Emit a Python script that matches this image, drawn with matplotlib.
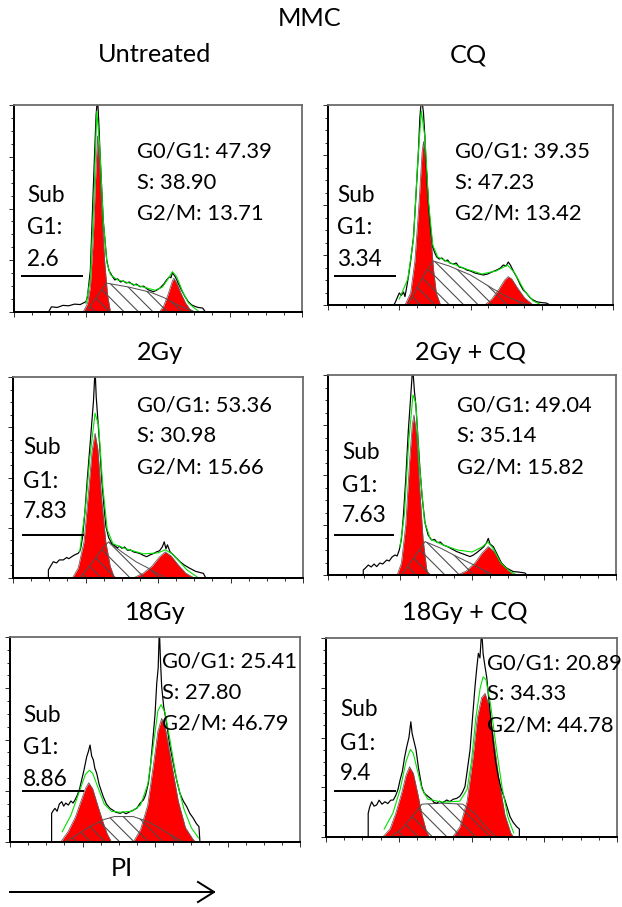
import matplotlib
matplotlib.use("Agg")
import matplotlib.pyplot as plt
from matplotlib.ticker import MultipleLocator
import numpy as np

plt.rcParams['font.family'] = ['Lato', 'DejaVu Sans']
plt.rcParams['hatch.linewidth'] = 0.6

W, H, DPI = 622, 907, 130

# --- data: (channel, count) ---
unt_hist = [(24,0),(26,2.5),(30,2.2),(34,3.2),(38,3.0),(42,3.8),(46,3.6),(48,4.3),(50,5),(51,7.4),(53,20),(55.5,68),(57,95),(58,104),(59,90),(59.7,77),(62,44),(64.4,25),(66,20),(67,18.8),(68.5,17),(70,15.5),(72,16),(74,14.5),(76,15),(78,14),(80,14.5),(83,13),(85,13.5),(87.5,12.2),(90,12.5),(93,10.8),(96.7,9.8),(99,10.5),(101.4,11.6),(104,13.5),(106,15.5),(108,17),(109,16.5),(110,19),(112,17),(114,14),(116,11),(118.8,7.4),(121,5),(123.4,3.4),(126,2.6),(128,2.2),(131,1.9),(133,0)]
unt_g1 = [(48,0),(51,4),(53,12),(55,35),(56.5,62),(58,85),(59.5,70),(61,48),(63,24),(65,8),(67,0)]
unt_s = [(50,0),(57,7),(64,14),(80,12),(95,9.5),(104,7),(112,4),(120,1.5),(126,0)]
unt_g2 = [(101,0),(104,3),(107,8.5),(110,15),(111,16.3),(113,14),(116,9),(119,4.5),(122,1.5),(125,0)]
unt_fit = [(50,4),(53,16),(55.5,55),(57.5,97),(59.5,80),(62,44),(64.5,24),(67,18),(72,15.5),(80,14),(90,12),(98,10.5),(103,12),(107,16),(110,19.5),(113,17),(117,10),(121,4.5),(125,2),(128,0.5)]

cq_hist = [(46,0),(47,1),(48.5,3.5),(50,6),(51.5,4.8),(53,6.5),(54,4.2),(55,8),(56.4,14),(58,22),(60,34),(61.5,52),(63.4,76),(64.5,94),(65.7,104),(67,96),(68,84),(69,68),(70.4,51),(72,38),(73.5,29),(75,26),(76.3,24),(78,23),(80,23.5),(82,22),(84,22.5),(85.6,21),(88,20.5),(90,21),(92,19),(95,18.5),(97.3,17.5),(100,17),(103,16),(106,15.5),(109,15),(112,15.5),(115,16.5),(118.4,17.5),(121,18.5),(123,20),(125,19.5),(126.5,21.5),(128,20),(130,17),(132.4,14),(135,10),(137,7.5),(139.4,5.8),(142,3.5),(144,2.5),(146.5,1.6),(150,1.2),(153,1),(156,0)]
cq_g1 = [(54,0),(58,6),(61,22),(64,52),(66,76),(67,81.7),(69,70),(71,45),(74,18),(76,6),(79,0)]
cq_s = [(56,0),(62,8),(68,16),(74,22),(85,19.5),(100,15),(116,8),(126,4),(135,1.5),(142,0)]
cq_g2 = [(110,0),(115,3),(120,8),(124,12.5),(126.5,14.2),(129,13),(133,8.5),(138,3.5),(144,0)]
cq_fit = [(50,3),(56,13),(60,33),(63,72),(65.5,97),(68,84),(70.5,52),(73.5,30),(77,24),(86,21),(97,18),(108,15.5),(118,17),(126,20),(131,16),(138,7),(144,2),(150,0)]

gy2_hist = [(24.4,0),(24.4,4),(26,6),(27.8,8.1),(30,7.5),(32,9),(34.7,9),(37,10.2),(38.5,9.6),(40.5,10.6),(42.5,11.5),(45,12.3),(46.5,14),(48,20.5),(49.5,32),(51.2,48.8),(53,65),(54.3,77),(55.5,88),(56.6,104),(57.4,90),(58.2,82),(59.8,66),(61.2,48.8),(62.7,36),(64.1,25.5),(66,20),(68,17.3),(70,16.2),(72,15),(73.5,15.8),(75,14.8),(77,15.4),(79,13.8),(81,14),(83,13),(85.5,12.6),(88,12),(90,11.2),(92.2,10.6),(94.5,11.5),(97,12.2),(99,13),(101,13.5),(103,15.5),(104.3,18),(105.5,14.5),(106.5,16.5),(108.3,13),(110.5,11.5),(112.5,10),(115.2,8.1),(118,6.5),(122,4.8),(126,3.3),(131.3,2.3),(133,0)]
gy2_g1 = [(41,0),(45,5),(49,18),(52,42),(54.5,63),(56.6,72),(58.5,64),(61,40),(64,18),(67,6),(70,0)]
gy2_s = [(46,0),(55,8),(62,15),(66,18),(75,13),(85,8),(93,5),(100,2),(106,0)]
gy2_g2 = [(83,0),(90,2.5),(96,6),(101,10.5),(105,13),(109,11),(114,6.5),(119,2.5),(125,0)]
gy2_fit = [(46,13),(50,35),(53,60),(56.6,82),(59,76),(62,45),(65,24),(69,17),(78,14.5),(90,12),(100,12.5),(105,14),(110,12),(115,8),(120,4),(125,1.5),(128,0)]

gy2cq_hist = [(24.5,0),(24.5,2.5),(26,3.5),(28,5),(30,4),(32,5.5),(33.8,4.2),(36,6),(38,5.5),(40.8,7.5),(42.5,7),(44.5,9),(46.5,10),(48,9.5),(49.5,12.5),(51,18),(52.3,29),(54,48),(55.8,72.5),(57.5,90),(58.8,104),(60,92),(61.1,84),(62.5,68),(63.9,52.5),(65.5,38),(67.4,26),(69.5,20),(72,17.5),(74,17.8),(76,16.2),(78,16.5),(80,15),(83,14.2),(86,13),(89.4,11.7),(92,11),(95,10.2),(98.6,9.2),(101,10),(103.5,11.3),(105.5,12.5),(108,14),(110,16),(111.3,18.3),(112.5,15.5),(114.8,14.2),(117,11),(120.6,5.8),(124,3.5),(128.7,1.7),(132,1.5),(136.8,1),(138,0)]
gy2cq_g1 = [(48,0),(51,6),(54,25),(56.5,55),(58.5,75),(59.7,80),(61.5,70),(63.5,45),(66,18),(68.5,3),(70,0)]
gy2cq_s = [(51,0),(57,6),(63,12),(67.4,16.7),(78,13.5),(90,9),(100,5.5),(108,2.5),(115,0)]
gy2cq_g2 = [(90,0),(96,2),(102,6),(107,11),(111.3,14.2),(115,12),(120,6.5),(125,2.5),(129,0)]
gy2cq_fit = [(50,14),(53,30),(56,66),(59,90),(61,86),(63.5,55),(67,27),(71,18),(80,15),(90,12.5),(100,11.5),(107,14),(111,16.5),(115,13),(120,6),(126,2),(131,0)]

gy18_hist = [(28.7,0),(28.7,14),(30,15.5),(31,16.4),(32.5,15),(34,18.5),(35.7,19.7),(37,17.5),(38.5,19),(40.2,18),(42,20),(43.5,19),(44.8,20.5),(46.5,23),(48,26),(49.4,30.2),(51,35),(52.9,41.6),(54,44),(55.2,47.3),(56.3,42),(57.5,40),(58.5,36),(59.8,33.5),(61.5,28),(64.3,22.1),(66.5,18.5),(69,16.4),(71,15.5),(73,14.5),(75.9,14),(78,14.6),(80,13.8),(82.8,14.8),(85,15.5),(87.5,16.5),(89.7,18.9),(92,20.5),(93.5,23),(95.4,28.6),(97,38),(98.9,53),(100,62),(101.2,77.4),(102.2,85),(103,104),(103.8,88),(104.6,75.8),(106,66),(108,57.9),(110,48),(112.6,38.4),(115,30),(117.2,23.7),(119.5,20),(121.9,17.2),(124,14),(126.4,11.6),(128.5,9),(130.3,7.5),(131,0)]
gy18_g1 = [(35,0),(40,5),(45,12),(49,20),(52,26),(54.3,28.9),(57,26),(60,19),(64,10),(67,4),(70,0)]
gy18_s = [(38,0),(45,3),(55,7.5),(65,11),(72,12.4),(85,12.4),(95,10),(105,6),(113,2.5),(120,0)]
gy18_g2 = [(85,0),(90,6),(95,18),(99,38),(102,54),(104.6,60.3),(107,56),(111,40),(116,20),(121,7),(126,1.5),(128,0)]
gy18_fit = [(36,5),(42,13),(48,25),(52,33),(54.8,35),(57,33.5),(61,26),(65,18.5),(70,15),(76,14.5),(84,15),(90,18),(95,28),(99,48),(102,64),(104.2,67),(107,63),(111,47),(115,30),(120,16),(125,7),(130,2)]

gy18cq_hist = [(29,0),(29,11.9),(30,15),(31.4,17.7),(33,15.5),(34.8,16.1),(36.5,18.5),(38.5,16.5),(40.5,17.7),(42.5,16.8),(44.5,18.5),(46.3,18.6),(48,21),(49.5,24),(50.9,28.6),(52.5,33),(54,40),(55.5,45.4),(57,50),(58.3,57.9),(59.2,52),(60.5,48),(61.9,43.7),(63.5,35),(65.8,25.3),(67.5,22),(70.3,20.3),(72.5,19),(74,17.5),(76,16.9),(78,18),(80,17.2),(83,18.6),(85,17.8),(87.5,19),(89.8,19.4),(92,20.5),(93.8,22.5),(95.5,25.3),(97,33),(99,43.7),(100.5,58),(102.4,75.5),(103.5,84),(104.7,92.3),(105.8,90),(107,104),(108,92),(109.3,85.6),(110.5,80),(111.5,72),(112.7,63.8),(115,47),(116.5,38),(118.4,30.3),(120.5,24),(123,18.6),(124.5,15),(126.5,10.2),(128.5,7.5),(131,5.2),(132.9,4),(132.9,0)]
gy18cq_g1 = [(39,0),(44,4),(48,12),(52,22),(55,31),(57.4,35.3),(60,32),(63,22),(66,11),(69,3),(71,0)]
gy18cq_s = [(44,0),(52,4),(60,11),(66,16.5),(80,17),(94,16.5),(102,12),(110,5),(117,0)]
gy18cq_g2 = [(87,0),(92,5),(97,18),(101,40),(104,60),(107,70),(109.3,72.2),(112,66),(115,50),(119,28),(123,11),(127,2),(129,0)]
gy18cq_fit = [(40,4),(46,12),(51,24),(55,38),(58,44),(60,42),(63,33),(66,24),(70,19),(80,17.5),(92,18),(97,24),(100,38),(103,60),(106,75),(108,80.5),(110,79),(113,67),(117,45),(121,25),(125,10),(129,2)]

titles = ["Untreated", "CQ", "2Gy", "2Gy + CQ", "18Gy", "18Gy + CQ"]
g0g1 = ["47.39", "39.35", "53.36", "49.04", "25.41", "20.89"]
s_phase = ["38.90", "47.23", "30.98", "35.14", "27.80", "34.33"]
g2m = ["13.71", "13.42", "15.66", "15.82", "46.79", "44.78"]
sub_g1 = ["2.6", "3.34", "7.83", "7.63", "8.86", "9.4"]

hists = [unt_hist, cq_hist, gy2_hist, gy2cq_hist, gy18_hist, gy18cq_hist]
g1s = [unt_g1, cq_g1, gy2_g1, gy2cq_g1, gy18_g1, gy18cq_g1]
ss = [unt_s, cq_s, gy2_s, gy2cq_s, gy18_s, gy18cq_s]
g2s = [unt_g2, cq_g2, gy2_g2, gy2cq_g2, gy18_g2, gy18cq_g2]
fits = [unt_fit, cq_fit, gy2_fit, gy2cq_fit, gy18_fit, gy18cq_fit]

# --- layout in pixels ---
boxes = [(14, 105, 302, 312), (328, 105, 613, 305),
         (13, 377, 303, 578), (328, 375, 616, 575),
         (10, 637, 300, 842), (326, 638, 617, 837)]
title_pos = [(155, 55), (468, 55), (160, 352), (470, 352), (155, 612), (465, 612)]
stat_pos = [(137, 152), (455, 152), (137, 405), (457, 405), (162, 662), (487, 663)]
sub_pos = [(27, 195), (337, 195), (23, 448), (342, 452), (23, 715), (340, 710)]
sub_line = [(22, 82, 276), (335, 395, 276), (23, 83, 535), (335, 393, 535), (23, 83, 791), (335, 395, 791)]

PX = 72.0 / DPI  # points per pixel


def fx(x):
    return x / W


def fy(y):
    return 1 - y / H


def arr(pts):
    a = np.array(pts, dtype=float)
    return a[:, 0], a[:, 1]


fig = plt.figure(figsize=(W / DPI, H / DPI), dpi=DPI)

for i in range(6):
    l, t, r, b = boxes[i]
    ax = fig.add_axes([fx(l), fy(b), (r - l) / W, (b - t) / H])
    ax.set_xlim(0, 200)
    ax.set_ylim(0, 100)

    x, y = arr(g1s[i])
    ax.fill_between(x, y, color='#ff0000', lw=0)
    ax.plot(x, y, color='#606060', lw=0.8 * PX)
    x, y = arr(g2s[i])
    ax.fill_between(x, y, color='#ff0000', lw=0)
    ax.plot(x, y, color='#606060', lw=0.8 * PX)
    x, y = arr(ss[i])
    ax.fill_between(x, y, facecolor='none', edgecolor='#4a4a4a', hatch='\\\\\\', lw=0)
    ax.plot(x, y, color='#505050', lw=1.0 * PX)

    x, y = arr(hists[i])
    ax.plot(x, y, color='black', lw=1.2 * PX)
    x, y = arr(fits[i])
    ax.plot(x, y, color='#00e000', lw=1.1 * PX)

    ax.xaxis.set_major_locator(MultipleLocator(50))
    ax.xaxis.set_minor_locator(MultipleLocator(12.5))
    ax.yaxis.set_major_locator(MultipleLocator(25))
    ax.yaxis.set_minor_locator(MultipleLocator(6.25))
    ax.tick_params(which='both', direction='out', labelbottom=False, labelleft=False,
                   width=1.0 * PX, color='#333333')
    ax.tick_params(which='major', length=5 * PX)
    ax.tick_params(which='minor', length=3 * PX)
    for side in ['left', 'bottom']:
        ax.spines[side].set_linewidth(2 * PX)
        ax.spines[side].set_color('black')
    for side in ['top', 'right']:
        ax.spines[side].set_linewidth(1.8 * PX)
        ax.spines[side].set_color('#6a6a6a')

    tx, ty = title_pos[i]
    fig.text(fx(tx), fy(ty), titles[i], ha='center', va='center', fontsize=14)

    sx, sy = stat_pos[i]
    lines = ["G0/G1: " + g0g1[i], "S: " + s_phase[i], "G2/M: " + g2m[i]]
    for k, s in enumerate(lines):
        fig.text(fx(sx), fy(sy + 31 * k), s, ha='left', va='center', fontsize=12.2)

    ux, uy = sub_pos[i]
    sub_lines = ["Sub", "G1:", sub_g1[i]]
    gaps = [0, 33, 64]
    for k, s in enumerate(sub_lines):
        fig.text(fx(ux), fy(uy + gaps[k]), s, ha='left', va='center', fontsize=12.5)
    x0, x1, yl = sub_line[i]
    fig.add_artist(plt.Line2D([fx(x0), fx(x1)], [fy(yl), fy(yl)], color='black', lw=2 * PX))

fig.text(fx(310), fy(18), "MMC", ha='center', va='center', fontsize=14)
fig.text(fx(122), fy(868), "PI", ha='center', va='center', fontsize=14)

# arrow under the panels
fig.add_artist(plt.Line2D([fx(10), fx(214)], [fy(892), fy(892)], color='black', lw=2 * PX))
fig.add_artist(plt.Line2D([fx(198), fx(214), fx(198)], [fy(882), fy(892), fy(902)],
                          color='black', lw=2 * PX))

fig.savefig("out.png", dpi=DPI)
